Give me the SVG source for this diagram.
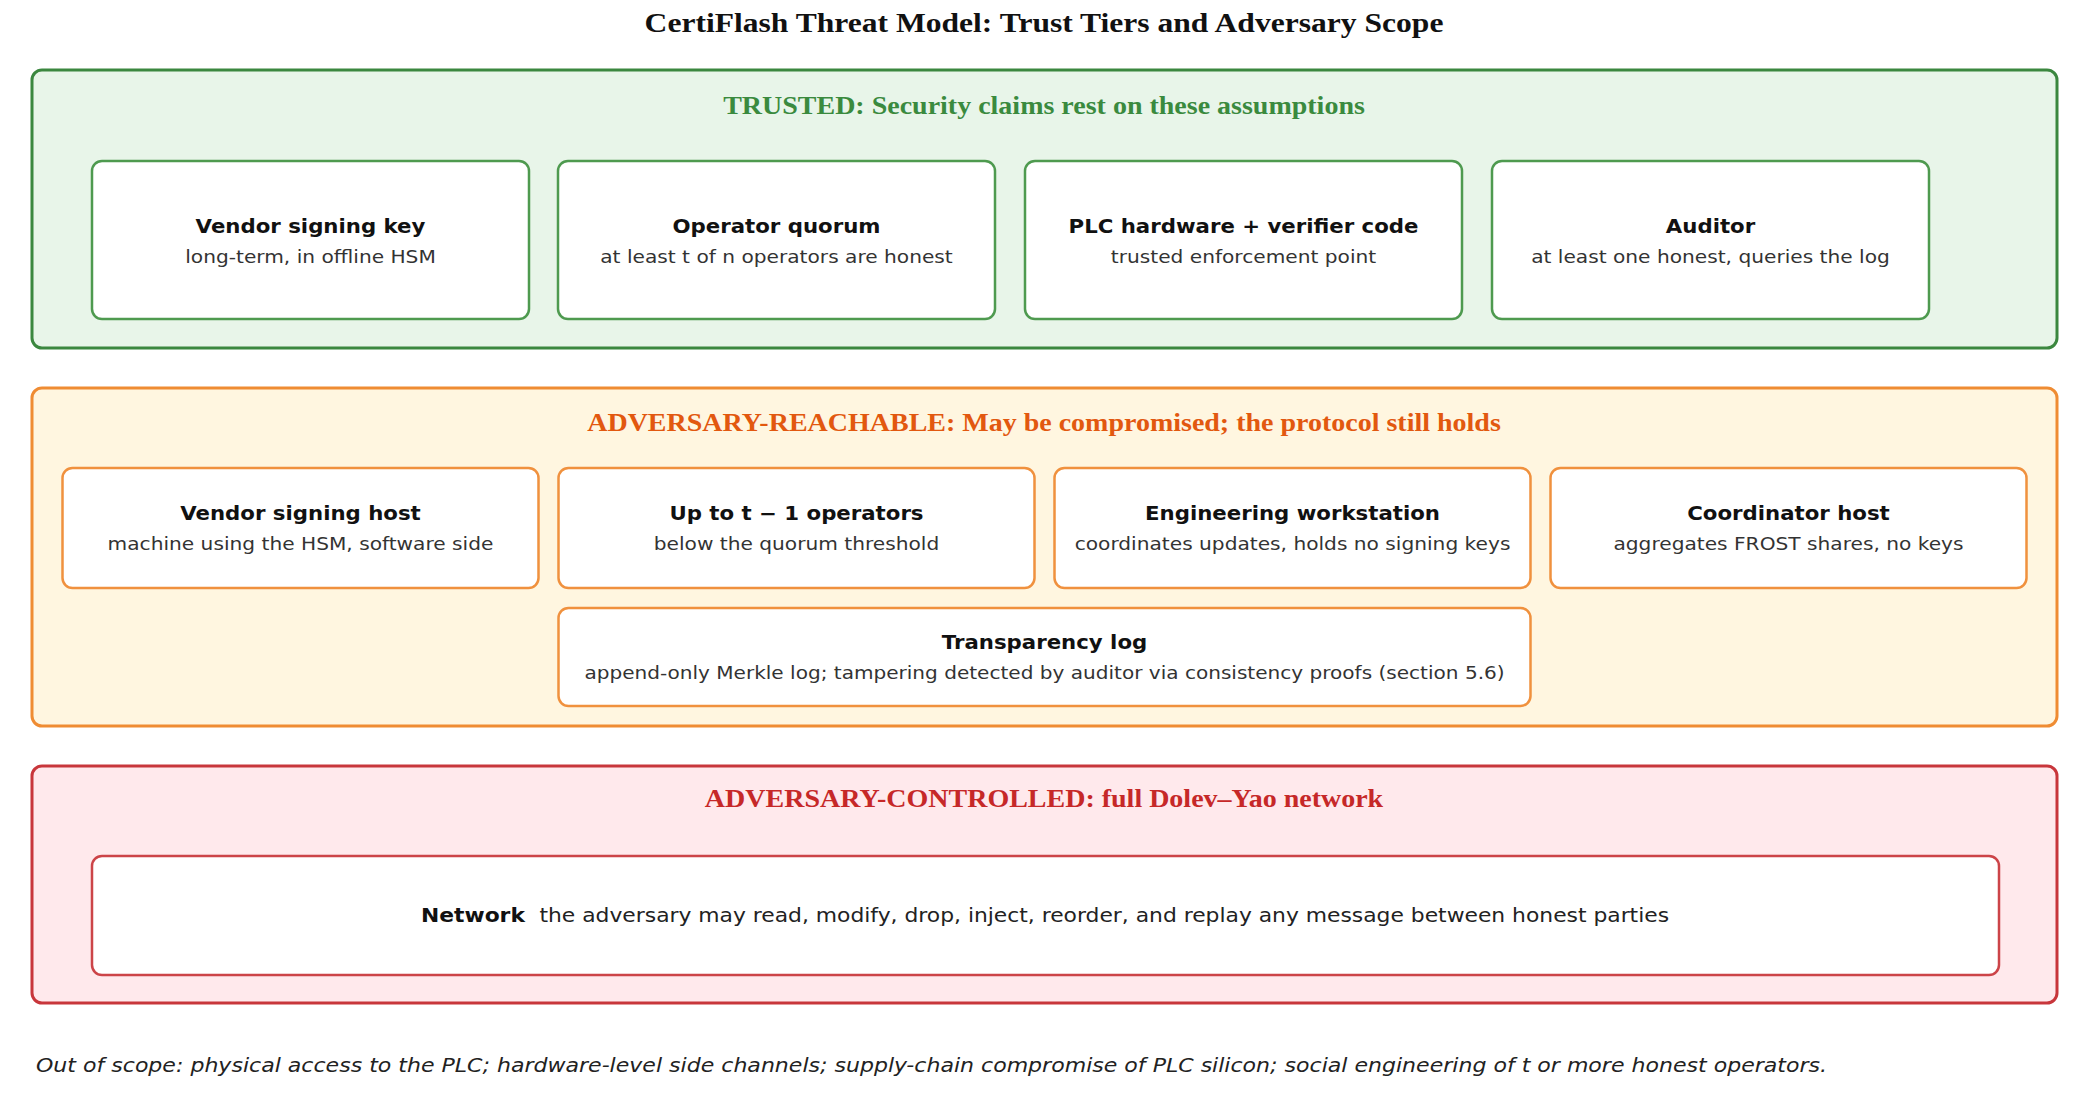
<svg xmlns="http://www.w3.org/2000/svg" width="2085" height="1097" viewBox="0 0 2085 1097">
<style>
.title{font-family:"Liberation Serif","Times New Roman",serif;font-weight:bold;font-size:28.2px;fill:#111;text-anchor:middle}
.tierh{font-family:"Liberation Serif","Times New Roman",serif;font-weight:bold;font-size:25px;text-anchor:middle}
.tier{stroke-width:3}
.node{fill:#ffffff;stroke-width:2.5}
.g-tier{fill:#e8f5e9;stroke:#3b873f}
.g-node{stroke:#4e9a4f}
.o-tier{fill:#fff6e0;stroke:#ef8c33}
.o-node{stroke:#f0913e}
.r-tier{fill:#ffe9ec;stroke:#c8363b}
.r-node{stroke:#cc4448}
.nt{font-family:"DejaVu Sans",Verdana,sans-serif;font-weight:bold;font-size:19px;fill:#111;text-anchor:middle}
.ns{font-family:"DejaVu Sans",Verdana,sans-serif;font-size:18px;fill:#333;text-anchor:middle}
.net{font-family:"DejaVu Sans",Verdana,sans-serif;font-size:19.5px;fill:#222;text-anchor:middle}
.foot{font-family:"DejaVu Sans",Verdana,sans-serif;font-style:italic;font-size:19.7px;fill:#222}
</style>
<rect width="2085" height="1097" fill="#ffffff"/>
<text class="title" transform="translate(1044 32) scale(1.12 1)">CertiFlash Threat Model: Trust Tiers and Adversary Scope</text>

<g id="tier-trusted">
<rect class="tier g-tier" x="32" y="70" width="2025" height="278" rx="10"/>
<text class="tierh" fill="#3a8a3e" transform="translate(1044 114) scale(1.12 1)">TRUSTED: Security claims rest on these assumptions</text>
</g>
<g id="tier-reachable">
<rect class="tier o-tier" x="32" y="388" width="2025" height="338" rx="10"/>
<text class="tierh" fill="#e2580f" transform="translate(1044 431) scale(1.12 1)">ADVERSARY-REACHABLE: May be compromised; the protocol still holds</text>
</g>
<g id="tier-controlled">
<rect class="tier r-tier" x="32" y="766" width="2025" height="237" rx="10"/>
<text class="tierh" fill="#c62828" transform="translate(1044 807) scale(1.12 1)">ADVERSARY-CONTROLLED: full Dolev–Yao network</text>
</g>

<g id="vendor-signing-key">
<rect class="node g-node" x="92" y="161" width="437" height="158" rx="10"/>
<text class="nt" transform="translate(310.5 233) scale(1.12 1)">Vendor signing key</text>
<text class="ns" transform="translate(310.5 263) scale(1.12 1)">long-term, in offline HSM</text>
</g>
<g id="operator-quorum">
<rect class="node g-node" x="558" y="161" width="437" height="158" rx="10"/>
<text class="nt" transform="translate(776.5 233) scale(1.12 1)">Operator quorum</text>
<text class="ns" transform="translate(776.5 263) scale(1.12 1)">at least t of n operators are honest</text>
</g>
<g id="plc-hardware">
<rect class="node g-node" x="1025" y="161" width="437" height="158" rx="10"/>
<text class="nt" transform="translate(1243.5 233) scale(1.12 1)">PLC hardware + verifier code</text>
<text class="ns" transform="translate(1243.5 263) scale(1.12 1)">trusted enforcement point</text>
</g>
<g id="auditor">
<rect class="node g-node" x="1492" y="161" width="437" height="158" rx="10"/>
<text class="nt" transform="translate(1710.5 233) scale(1.12 1)">Auditor</text>
<text class="ns" transform="translate(1710.5 263) scale(1.12 1)">at least one honest, queries the log</text>
</g>

<g id="vendor-signing-host">
<rect class="node o-node" x="62.5" y="468" width="476" height="120" rx="10"/>
<text class="nt" transform="translate(300.5 520) scale(1.12 1)">Vendor signing host</text>
<text class="ns" transform="translate(300.5 550) scale(1.12 1)">machine using the HSM, software side</text>
</g>
<g id="up-to-t-1-operators">
<rect class="node o-node" x="558.5" y="468" width="476" height="120" rx="10"/>
<text class="nt" transform="translate(796.5 520) scale(1.12 1)">Up to t − 1 operators</text>
<text class="ns" transform="translate(796.5 550) scale(1.12 1)">below the quorum threshold</text>
</g>
<g id="engineering-workstation">
<rect class="node o-node" x="1054.5" y="468" width="476" height="120" rx="10"/>
<text class="nt" transform="translate(1292.5 520) scale(1.12 1)">Engineering workstation</text>
<text class="ns" transform="translate(1292.5 550) scale(1.12 1)">coordinates updates, holds no signing keys</text>
</g>
<g id="coordinator-host">
<rect class="node o-node" x="1550.5" y="468" width="476" height="120" rx="10"/>
<text class="nt" transform="translate(1788.5 520) scale(1.12 1)">Coordinator host</text>
<text class="ns" transform="translate(1788.5 550) scale(1.12 1)">aggregates FROST shares, no keys</text>
</g>
<g id="transparency-log">
<rect class="node o-node" x="558.5" y="608" width="972" height="98" rx="10"/>
<text class="nt" transform="translate(1044.5 649) scale(1.12 1)">Transparency log</text>
<text class="ns" transform="translate(1044.5 679) scale(1.115 1)">append-only Merkle log; tampering detected by auditor via consistency proofs (section 5.6)</text>
</g>

<g id="network">
<rect class="node r-node" x="92" y="856" width="1907" height="119" rx="10"/>
<text class="net" transform="translate(1045 922) scale(1.12 1)"><tspan font-weight="bold" fill="#111">Network</tspan><tspan dx="13">the adversary may read, modify, drop, inject, reorder, and replay any message between honest parties</tspan></text>
</g>

<g id="connectors"></g>

<text class="foot" transform="translate(36 1072) scale(1.12 1)">Out of scope: physical access to the PLC; hardware-level side channels; supply-chain compromise of PLC silicon; social engineering of t or more honest operators.</text>
</svg>
